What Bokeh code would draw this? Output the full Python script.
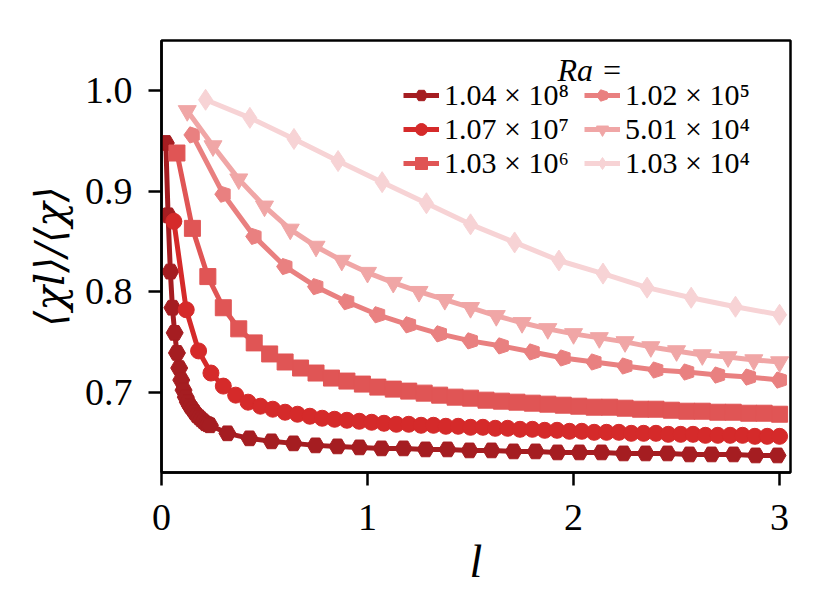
from bokeh.plotting import figure
from bokeh.models import Range1d, FixedTicker, Legend, LegendItem, Label, NumeralTickFormatter
from bokeh.embed import file_html
from bokeh.resources import INLINE

# ---------------- data ----------------
ra_labels = ["1.04 × 10⁸", "1.07 × 10⁷", "1.03 × 10⁶",
             "1.02 × 10⁵", "5.01 × 10⁴", "1.03 × 10⁴"]

l_ra8 = [0.021, 0.032, 0.043, 0.053, 0.064, 0.075, 0.086, 0.096, 0.107, 0.118,
         0.128, 0.139, 0.150, 0.160, 0.171, 0.182, 0.192, 0.203, 0.214, 0.225,
         0.235, 0.320, 0.427, 0.534, 0.641, 0.748, 0.854, 0.961, 1.068, 1.175,
         1.282, 1.388, 1.495, 1.602, 1.709, 1.816, 1.922, 2.029, 2.136, 2.243,
         2.350, 2.456, 2.563, 2.670, 2.777, 2.884, 2.990]
v_ra8 = [0.948, 0.876, 0.820, 0.784, 0.759, 0.739, 0.724, 0.712, 0.702, 0.695,
         0.690, 0.686, 0.683, 0.680, 0.677, 0.675, 0.673, 0.671, 0.669, 0.668,
         0.667, 0.659, 0.654, 0.651, 0.649, 0.647, 0.646, 0.645, 0.644, 0.644,
         0.643, 0.643, 0.642, 0.642, 0.641, 0.641, 0.640, 0.640, 0.640, 0.639,
         0.639, 0.639, 0.638, 0.638, 0.638, 0.637, 0.637]

l_ra7 = [0.06, 0.12, 0.18, 0.24, 0.30, 0.36, 0.42, 0.48, 0.54, 0.60,
         0.66, 0.72, 0.78, 0.84, 0.90, 0.96, 1.02, 1.08, 1.14, 1.20,
         1.26, 1.32, 1.38, 1.44, 1.50, 1.56, 1.62, 1.68, 1.74, 1.80,
         1.86, 1.92, 1.98, 2.04, 2.10, 2.16, 2.22, 2.28, 2.34, 2.40,
         2.46, 2.52, 2.58, 2.64, 2.70, 2.76, 2.82, 2.88, 2.94, 3.00]
v_ra7 = [0.870, 0.782, 0.741, 0.719, 0.706, 0.697, 0.690, 0.686, 0.683, 0.680,
         0.678, 0.676, 0.674, 0.673, 0.672, 0.671, 0.670, 0.669, 0.668, 0.668,
         0.667, 0.667, 0.666, 0.666, 0.665, 0.665, 0.664, 0.664, 0.663, 0.663,
         0.662, 0.662, 0.661, 0.661, 0.660, 0.660, 0.660, 0.659, 0.659, 0.659,
         0.658, 0.658, 0.658, 0.657, 0.657, 0.657, 0.657, 0.656, 0.656, 0.656]

l_ra6 = [0.075, 0.150, 0.225, 0.300, 0.375, 0.450, 0.525, 0.600, 0.675, 0.750,
         0.825, 0.900, 0.975, 1.050, 1.125, 1.200, 1.275, 1.350, 1.425, 1.500,
         1.575, 1.650, 1.725, 1.800, 1.875, 1.950, 2.025, 2.100, 2.175, 2.250,
         2.325, 2.400, 2.475, 2.550, 2.625, 2.700, 2.775, 2.850, 2.925, 3.000]
v_ra6 = [0.938, 0.863, 0.815, 0.784, 0.763, 0.749, 0.738, 0.730, 0.724, 0.719,
         0.714, 0.711, 0.708, 0.705, 0.703, 0.701, 0.699, 0.697, 0.695, 0.694,
         0.692, 0.691, 0.690, 0.689, 0.688, 0.687, 0.686, 0.685, 0.685, 0.684,
         0.683, 0.683, 0.682, 0.681, 0.681, 0.680, 0.680, 0.679, 0.679, 0.678]

l_ra5 = [0.15, 0.30, 0.45, 0.60, 0.75, 0.90, 1.05, 1.20, 1.35, 1.50,
         1.65, 1.80, 1.95, 2.10, 2.25, 2.40, 2.55, 2.70, 2.85, 3.00]
v_ra5 = [0.956, 0.897, 0.855, 0.825, 0.805, 0.790, 0.777, 0.767, 0.758, 0.751,
         0.746, 0.740, 0.734, 0.730, 0.726, 0.722, 0.720, 0.717, 0.715, 0.712]

l_ra4b = [0.125, 0.250, 0.375, 0.500, 0.625, 0.750, 0.875, 1.000, 1.125, 1.250,
          1.375, 1.500, 1.625, 1.750, 1.875, 2.000, 2.125, 2.250, 2.375, 2.500,
          2.625, 2.750, 2.875, 3.000]
v_ra4b = [0.980, 0.945, 0.912, 0.885, 0.862, 0.845, 0.831, 0.819, 0.809, 0.800,
          0.792, 0.784, 0.776, 0.769, 0.763, 0.758, 0.754, 0.750, 0.745, 0.741,
          0.737, 0.735, 0.732, 0.730]

l_ra4a = [0.214, 0.429, 0.643, 0.857, 1.071, 1.286, 1.500, 1.714, 1.929, 2.143,
          2.357, 2.571, 2.786, 3.000]
v_ra4a = [0.991, 0.973, 0.952, 0.930, 0.909, 0.888, 0.867, 0.849, 0.831, 0.818,
          0.804, 0.794, 0.785, 0.777]

x_ticks = [0, 1, 2, 3]
y_ticks = [0.7, 0.8, 0.9, 1.0]

# ---------------- styling ----------------
colors = ["#a51d21", "#d52a2a", "#e05555", "#e98080", "#f0a6a6", "#f7d3d5"]
FONT = "Liberation Serif"

p = figure(width=812, height=596,
           x_range=Range1d(0, 3.053), y_range=Range1d(0.62, 1.05),
           output_backend="svg", toolbar_location=None,
           min_border_left=161, min_border_right=22,
           min_border_top=40, min_border_bottom=124,
           background_fill_color="white", border_fill_color="white")
p.grid.visible = False
p.outline_line_color = "black"
p.outline_line_width = 2.5
p.outline_line_alpha = 1.0

for ax in (p.xaxis[0], p.yaxis[0]):
    ax.axis_line_width = 2.5
    ax.axis_line_color = "black"
    ax.major_tick_line_width = 2.5
    ax.major_tick_line_color = "black"
    ax.major_tick_out = 13
    ax.major_tick_in = 0
    ax.minor_tick_line_color = None
    ax.major_label_text_font = FONT
    ax.major_label_text_font_size = "38px"
    ax.major_label_text_color = "black"
    ax.axis_label_text_color = "black"

p.xaxis.ticker = FixedTicker(ticks=x_ticks)
p.yaxis.ticker = FixedTicker(ticks=y_ticks)
p.xaxis.formatter = NumeralTickFormatter(format="0")
p.yaxis.formatter = NumeralTickFormatter(format="0.0")
p.xaxis.major_label_standoff = 19
p.yaxis.major_label_standoff = 16

p.xaxis.axis_label = "l"
p.xaxis.axis_label_text_font = FONT
p.xaxis.axis_label_text_font_style = "italic"
p.xaxis.axis_label_text_font_size = "46px"
p.xaxis.axis_label_standoff = 3

p.yaxis.axis_label = "⟨χl⟩/⟨χ⟩"
p.yaxis.axis_label_text_font = "DejaVu Serif"
p.yaxis.axis_label_text_font_style = "italic"
p.yaxis.axis_label_text_font_size = "41px"
p.yaxis.axis_label_standoff = 8

LW = 5
items = []

series = [
    (l_ra8, v_ra8, "hex", 17),
    (l_ra7, v_ra7, "circle", 16),
    (l_ra6, v_ra6, "square", 16),
    (l_ra5, v_ra5, "pentagon", 8.5),
    (l_ra4b, v_ra4b, "inverted_triangle", 18),
    (l_ra4a, v_ra4a, "diamond", 21),
]

for (xs, ys, mk, sz), col, lab in zip(series, colors, ra_labels):
    ln = p.line(xs, ys, line_color=col, line_width=LW)
    if mk == "pentagon":
        sc = p.ngon(x=xs, y=ys, radius=sz, radius_units="screen", n=5,
                    angle=1.5708, fill_color=col, line_color=col)
    else:
        sc = p.scatter(xs, ys, marker=mk, size=sz, fill_color=col, line_color=col)
    items.append(LegendItem(label=lab, renderers=[ln, sc]))

legend = Legend(items=items, ncols=2, location=(242, 292),
                padding=0, margin=0, spacing=0,
                glyph_width=36, glyph_height=30, label_height=30,
                label_standoff=5, label_width=140,
                label_text_font=FONT, label_text_font_size="30px",
                label_text_color="black",
                border_line_alpha=0, background_fill_alpha=0)
p.add_layout(legend)

p.add_layout(Label(x=2.08, y=1.021, text="Ra =", text_align="center",
                   text_baseline="middle", text_font=FONT,
                   text_font_style="italic", text_font_size="32px",
                   text_color="black"))

open("out.html", "w").write(file_html(p, INLINE))
